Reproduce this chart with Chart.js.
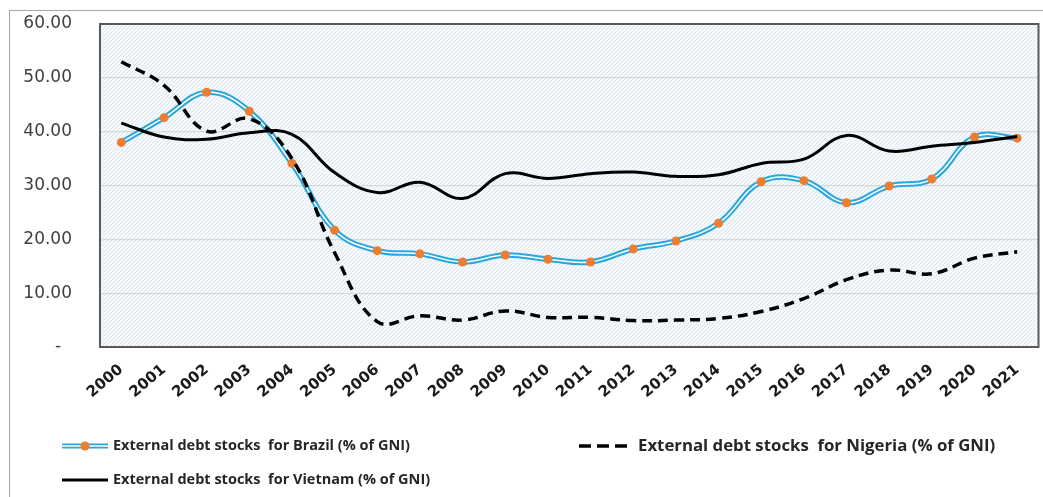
<!DOCTYPE html>
<html>
<head>
<meta charset="utf-8">
<script src="https://cdn.jsdelivr.net/npm/chart.js@4/dist/chart.umd.min.js"></script>
<style>
  html, body { margin: 0; padding: 0; background: #fff; overflow: hidden; }
  #wrap { position: relative; width: 1043px; height: 497px; }
  #frame { position: absolute; left: 9px; top: 10px; width: 1100px; height: 600px; border-left: 1px solid #a6a6a6; border-top: 1px solid #a6a6a6; }
  canvas { position: absolute; left: 0; top: 0; }
</style>
</head>
<body>
<div id="wrap">
  <div id="frame"></div>
  <canvas id="chart" width="1043" height="497"></canvas>
</div>
<script>
// External debt stocks (% of GNI), 2000-2021
const years = ['2000', '2001', '2002', '2003', '2004', '2005', '2006', '2007', '2008', '2009', '2010',
    '2011', '2012', '2013', '2014', '2015', '2016', '2017', '2018', '2019', '2020', '2021'];
const brazil = [38.0, 42.6, 47.3, 43.8, 34.1, 21.7, 17.9, 17.3, 15.8, 17.1, 16.3,
    15.8, 18.2, 19.7, 23.0, 30.7, 30.9, 26.8, 29.9, 31.2, 39.0, 38.8];
const nigeria = [53.0, 48.6, 40.1, 42.4, 35.0, 17.5, 4.7, 5.8, 5.0, 6.7, 5.5,
    5.5, 4.9, 5.0, 5.3, 6.6, 9.0, 12.5, 14.3, 13.6, 16.5, 17.7];
const vietnam = [41.6, 39.0, 38.6, 39.8, 39.5, 32.4, 28.7, 30.6, 27.6, 32.2, 31.3,
    32.2, 32.5, 31.7, 32.0, 34.1, 34.9, 39.3, 36.4, 37.3, 38.0, 39.1];
const legendLabels = [
    'External debt stocks  for Brazil (% of GNI)',
    'External debt stocks  for Nigeria (% of GNI)',
    'External debt stocks  for Vietnam (% of GNI)'
];

const BLUE = '#2aa7dd';
const ORANGE = '#ed7d31';
const AXIS = '#595959';

// fine diagonal hatch for the plot area
function makeHatch(ctx) {
    const c = document.createElement('canvas');
    c.width = 4; c.height = 4;
    const g = c.getContext('2d');
    g.fillStyle = '#f6f9fb';
    g.fillRect(0, 0, 4, 4);
    g.strokeStyle = '#dbe5ee';
    g.lineWidth = 1;
    g.beginPath();
    g.moveTo(0, 4); g.lineTo(4, 0);
    g.moveTo(-1, 1); g.lineTo(1, -1);
    g.moveTo(3, 5); g.lineTo(5, 3);
    g.stroke();
    return ctx.createPattern(c, 'repeat');
}

const plotBg = {
    id: 'plotBg',
    beforeDraw(chart) {
        const { ctx, chartArea: a } = chart;
        ctx.save();
        ctx.fillStyle = makeHatch(ctx);
        ctx.fillRect(a.left, a.top, a.right - a.left, a.bottom - a.top);
        ctx.restore();
    },
    afterDatasetsDraw(chart) {
        const { ctx, chartArea: a } = chart;
        ctx.save();
        ctx.strokeStyle = AXIS;
        ctx.lineWidth = 2;
        ctx.strokeRect(a.left, a.top, a.right - a.left, a.bottom - a.top);
        ctx.restore();
    }
};

// legend laid out in two columns under the axis labels
const legendPos = [
    { x: 62, y: 446, font: 'bold 14.5px "Open Sans"' },
    { x: 579, y: 446, font: 'bold 16.8px "Open Sans"' },
    { x: 62, y: 480, font: 'bold 14.5px "Open Sans"' }
];

function legendSample(ctx, i, x, y) {
    const w = 46;
    ctx.lineCap = 'butt';
    if (i === 0) {
        ctx.strokeStyle = BLUE; ctx.lineWidth = 5;
        ctx.beginPath(); ctx.moveTo(x, y); ctx.lineTo(x + w, y); ctx.stroke();
        ctx.strokeStyle = '#fff'; ctx.lineWidth = 1.5;
        ctx.beginPath(); ctx.moveTo(x, y); ctx.lineTo(x + w, y); ctx.stroke();
        ctx.fillStyle = ORANGE;
        ctx.beginPath(); ctx.arc(x + w / 2, y, 4.5, 0, Math.PI * 2); ctx.fill();
    } else if (i === 1) {
        ctx.strokeStyle = '#000'; ctx.lineWidth = 3.5;
        ctx.setLineDash([12, 6]);
        ctx.beginPath(); ctx.moveTo(x, y); ctx.lineTo(x + 53, y); ctx.stroke();
        ctx.setLineDash([]);
    } else {
        ctx.strokeStyle = '#000'; ctx.lineWidth = 3;
        ctx.beginPath(); ctx.moveTo(x, y); ctx.lineTo(x + w, y); ctx.stroke();
    }
}

const bottomLegend = {
    id: 'bottomLegend',
    afterDraw(chart) {
        const ctx = chart.ctx;
        ctx.save();
        legendLabels.forEach((label, i) => {
            const p = legendPos[i];
            legendSample(ctx, i, p.x, p.y);
            ctx.font = p.font;
            ctx.fillStyle = '#262626';
            ctx.textBaseline = 'middle';
            ctx.textAlign = 'left';
            ctx.fillText(label, p.x + (i === 1 ? 59 : 51), p.y);
        });
        ctx.restore();
    }
};

new Chart(document.getElementById('chart'), {
    type: 'line',
    data: {
        labels: years,
        datasets: [
            { data: vietnam, borderColor: '#000', borderWidth: 3, pointRadius: 0, tension: 0.4, order: 0 },
            { data: nigeria, borderColor: '#000', borderWidth: 3.5, borderDash: [10, 6], pointRadius: 0, tension: 0.4, order: 1 },
            { data: brazil, borderColor: '#fff', borderWidth: 1.5, pointRadius: 4.5, pointBackgroundColor: ORANGE, pointBorderWidth: 0, tension: 0.4, order: 2 },
            { data: brazil, borderColor: BLUE, borderWidth: 5.5, pointRadius: 0, tension: 0.4, order: 3 }
        ]
    },
    options: {
        responsive: false,
        animation: false,
        events: [],
        layout: { padding: { top: 24, right: 1, left: 0, bottom: 0 } },
        plugins: { legend: { display: false }, tooltip: { enabled: false } },
        scales: {
            x: {
                offset: true,
                grid: { display: false },
                border: { display: false },
                ticks: {
                    color: '#1a1a1a',
                    font: { family: 'DejaVu Sans', weight: 'bold', size: 15 },
                    minRotation: 40, maxRotation: 40,
                    padding: 6
                },
                afterFit: s => { s.height = 150; s.paddingLeft = 0; s.paddingRight = 0; }
            },
            y: {
                min: 0, max: 60,
                ticks: {
                    stepSize: 10,
                    color: '#404040',
                    font: { family: 'DejaVu Sans', size: 17 },
                    padding: 28,
                    callback: v => v === 0 ? '-  ' : v.toFixed(2)
                },
                grid: {
                    drawTicks: false,
                    color: c => (c.tick.value === 0 || c.tick.value === 60) ? 'rgba(0,0,0,0)' : '#d6d9dc',
                    lineWidth: 1.2
                },
                border: { display: false },
                afterFit: s => { s.width = 100; s.paddingTop = 0; s.paddingBottom = 0; }
            }
        }
    },
    plugins: [plotBg, bottomLegend]
});
</script>
</body>
</html>
